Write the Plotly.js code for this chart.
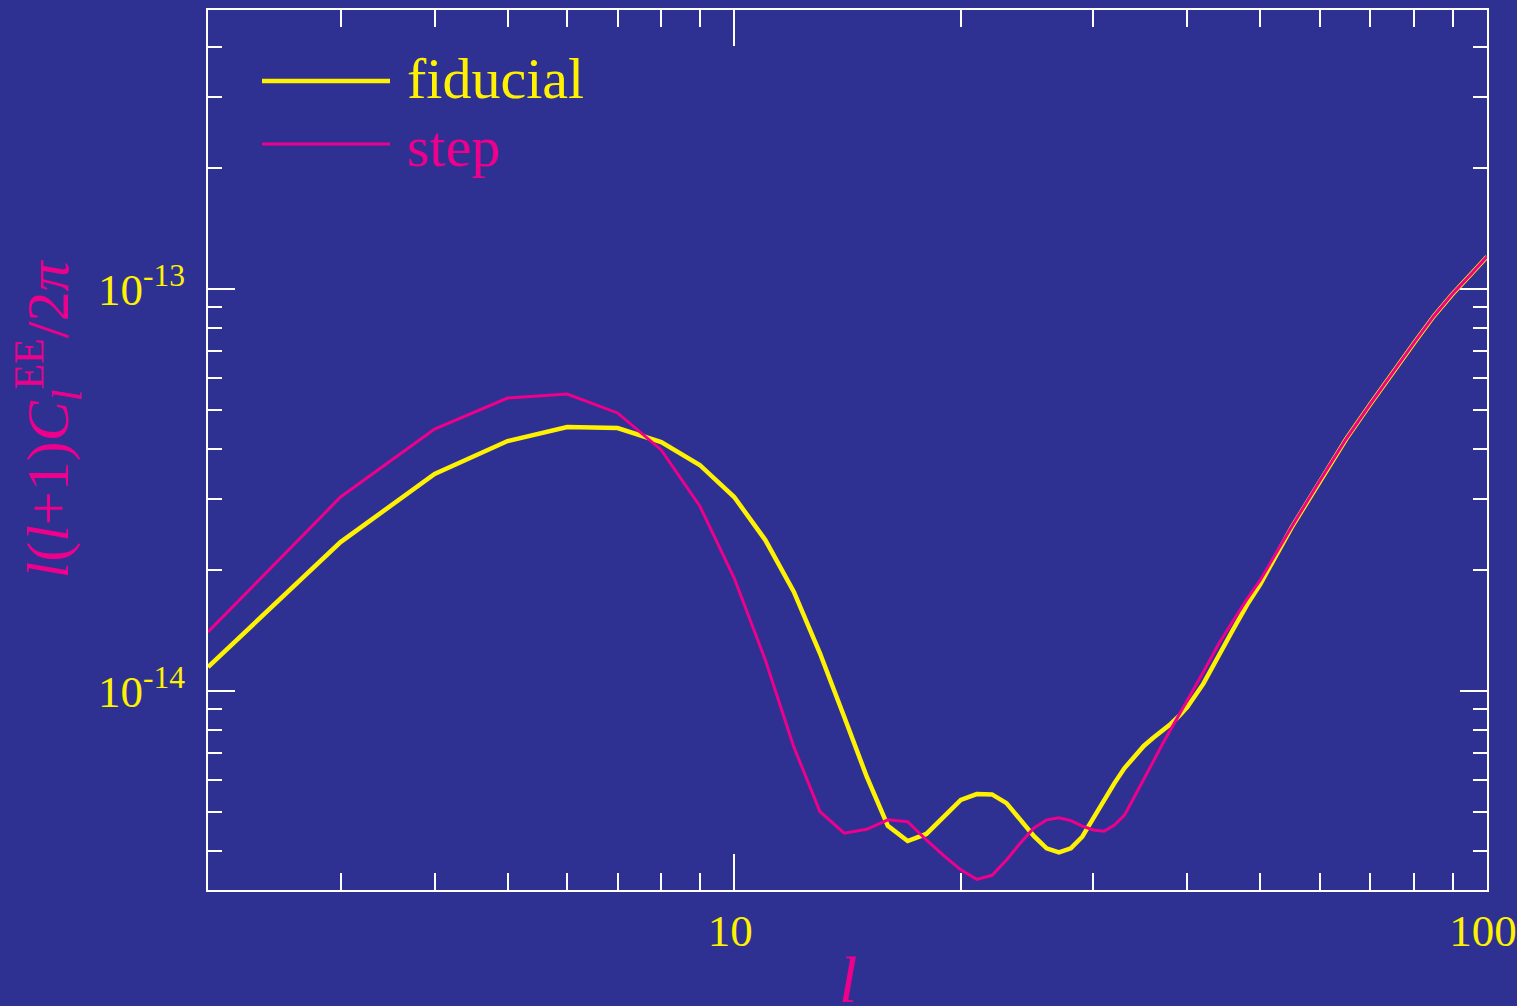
<!DOCTYPE html>
<html>
<head>
<meta charset="utf-8">
<script src="https://cdn.plot.ly/plotly-3.0.1.min.js"></script>
<style>
  html, body { margin: 0; padding: 0; background: #2E3192; }
  #chart { width: 1517px; height: 1006px; }
</style>
</head>
<body>
<div id="chart"></div>
<script>
// multipole l
const ell = [2,3,4,5,6,7,8,9,10,11,12,13,14,15,16,17,18,19,20,21,22,23,24,25,26,27,28,29,30,
             31,32,33,34,35,36,37,38,39,40,42,44,46,48,50,55,60,65,70,75,80,85,90,95,100];

// l(l+1)C_l^EE/2pi, fiducial model
const fiducial = [1.147e-14,2.347e-14,3.466e-14,4.186e-14,4.536e-14,4.51e-14,4.163e-14,3.65e-14,3.038e-14,
  2.374e-14,1.766e-14,1.241e-14,8.63e-15,6.12e-15,4.62e-15,4.235e-15,4.41e-15,4.86e-15,5.36e-15,
  5.54e-15,5.53e-15,5.26e-15,4.78e-15,4.36e-15,4.06e-15,3.97e-15,4.06e-15,4.34e-15,4.83e-15,
  5.37e-15,5.90e-15,6.43e-15,6.85e-15,7.30e-15,7.64e-15,7.95e-15,8.28e-15,8.67e-15,9.13e-15,
  1.043e-14,1.228e-14,1.422e-14,1.638e-14,1.846e-14,2.55e-14,3.33e-14,4.236e-14,5.175e-14,
  6.216e-14,7.34e-14,8.566e-14,9.72e-14,1.083e-13,1.203e-13];

// l(l+1)C_l^EE/2pi, step model
const step = [1.402e-14,3.038e-14,4.484e-14,5.355e-14,5.48e-14,4.916e-14,3.977e-14,2.886e-14,1.91e-14,
  1.194e-14,7.26e-15,5.01e-15,4.43e-15,4.53e-15,4.78e-15,4.73e-15,4.26e-15,3.89e-15,3.59e-15,
  3.40e-15,3.48e-15,3.80e-15,4.19e-15,4.56e-15,4.78e-15,4.84e-15,4.76e-15,4.61e-15,4.51e-15,
  4.48e-15,4.64e-15,4.91e-15,5.45e-15,6.01e-15,6.66e-15,7.34e-15,8.0e-15,8.72e-15,9.50e-15,
  1.115e-14,1.309e-14,1.496e-14,1.693e-14,1.889e-14,2.56e-14,3.34e-14,4.24e-14,5.18e-14,
  6.22e-14,7.35e-14,8.57e-14,9.73e-14,1.084e-13,1.204e-13];

// ticks
const xMajorVals = [10, 100];
const xMajorText = ['10', '100'];
const xMinorVals = [3,4,5,6,7,8,9,20,30,40,50,60,70,80,90];
const yMajorVals = [1e-14, 1e-13];
const yMajorText = ['10<sup>-14</sup>', '10<sup>-13</sup>'];
const yMinorVals = [4e-15,5e-15,6e-15,7e-15,8e-15,9e-15,2e-14,3e-14,4e-14,5e-14,6e-14,7e-14,8e-14,9e-14,2e-13,3e-13,4e-13];

const seriesNames = ['fiducial', 'step'];
const xTitle = '<i>l</i>';

const BG = '#2E3192';
const YEL = '#FFF200';
const MAG = '#EC008C';
const FONT = 'Liberation Serif, Times New Roman, serif';

const traces = [
  { x: ell, y: fiducial, type: 'scatter', mode: 'lines', name: seriesNames[0],
    line: { color: YEL, width: 4.5 }, showlegend: false },
  { x: ell, y: step, type: 'scatter', mode: 'lines', name: seriesNames[1],
    line: { color: MAG, width: 3 }, showlegend: false }
];

// invisible padding (background-coloured) to shift the rotated title upward
const pad = '<span style="color:' + BG + '">nn</span>';

const layout = {
  width: 1517, height: 1006,
  margin: { l: 208, r: 30, t: 10, b: 116, pad: 0 },
  paper_bgcolor: BG, plot_bgcolor: BG,
  font: { family: FONT, color: YEL },
  showlegend: false,
  xaxis: {
    type: 'log', range: [Math.log10(2), 2], autorange: false,
    tickmode: 'array', tickvals: xMajorVals, ticktext: xMajorText,
    ticks: 'inside', ticklen: 36, tickwidth: 2, tickcolor: '#FFFFFF',
    minor: { tickmode: 'array', tickvals: xMinorVals, ticks: 'inside', ticklen: 17, tickwidth: 2, tickcolor: '#FFFFFF', showgrid: false },
    showline: true, linecolor: '#FFFFFF', linewidth: 2, mirror: 'ticks',
    showgrid: false, zeroline: false,
    tickfont: { family: FONT, size: 45, color: YEL },
    ticklabelstandoff: 0,
    ticklabelshift: -4,
    ticklabeloverflow: 'allow'
  },
  yaxis: {
    type: 'log', range: [-14.495, -12.306], autorange: false,
    tickmode: 'array', tickvals: yMajorVals, ticktext: yMajorText,
    ticks: 'inside', ticklen: 27, tickwidth: 2, tickcolor: '#FFFFFF',
    minor: { tickmode: 'array', tickvals: yMinorVals, ticks: 'inside', ticklen: 14, tickwidth: 2, tickcolor: '#FFFFFF', showgrid: false },
    showline: true, linecolor: '#FFFFFF', linewidth: 2, mirror: 'ticks',
    showgrid: false, zeroline: false,
    tickfont: { family: FONT, size: 45, color: YEL },
    ticklabelstandoff: 12,
    ticklabeloverflow: 'allow',
    title: { text: pad + '<i>l</i>(<i>l</i>+1)<i>C</i><sub><i>l</i></sub><sup>EE</sup>/2<i>π</i>',
             font: { family: FONT, size: 60, color: MAG }, standoff: 10 }
  },
  shapes: [
    { type: 'line', xref: 'paper', yref: 'paper', x0: (262-208)/1279, x1: (390-208)/1279,
      y0: (890-81)/880, y1: (890-81)/880, line: { color: YEL, width: 4.5 } },
    { type: 'line', xref: 'paper', yref: 'paper', x0: (262-208)/1279, x1: (390-208)/1279,
      y0: (890-144)/880, y1: (890-144)/880, line: { color: MAG, width: 3 } }
  ],
  annotations: [
    { xref: 'paper', yref: 'paper', x: (405-208)/1279, y: (890-78)/880, xanchor: 'left', yanchor: 'middle',
      text: seriesNames[0], showarrow: false, font: { family: FONT, size: 58, color: YEL } },
    { xref: 'paper', yref: 'paper', x: (405-208)/1279, y: (890-146)/880, xanchor: 'left', yanchor: 'middle',
      text: seriesNames[1], showarrow: false, font: { family: FONT, size: 58, color: MAG } },
    // x-axis title (placed as annotation so it can sit low, as in the reference)
    { xref: 'paper', yref: 'paper', x: 0.5, y: (890-941)/880, xanchor: 'center', yanchor: 'top',
      text: xTitle, showarrow: false, font: { family: FONT, size: 66, color: MAG } }
  ]
};

Plotly.newPlot('chart', traces, layout, { displayModeBar: false, staticPlot: true });
</script>
</body>
</html>
